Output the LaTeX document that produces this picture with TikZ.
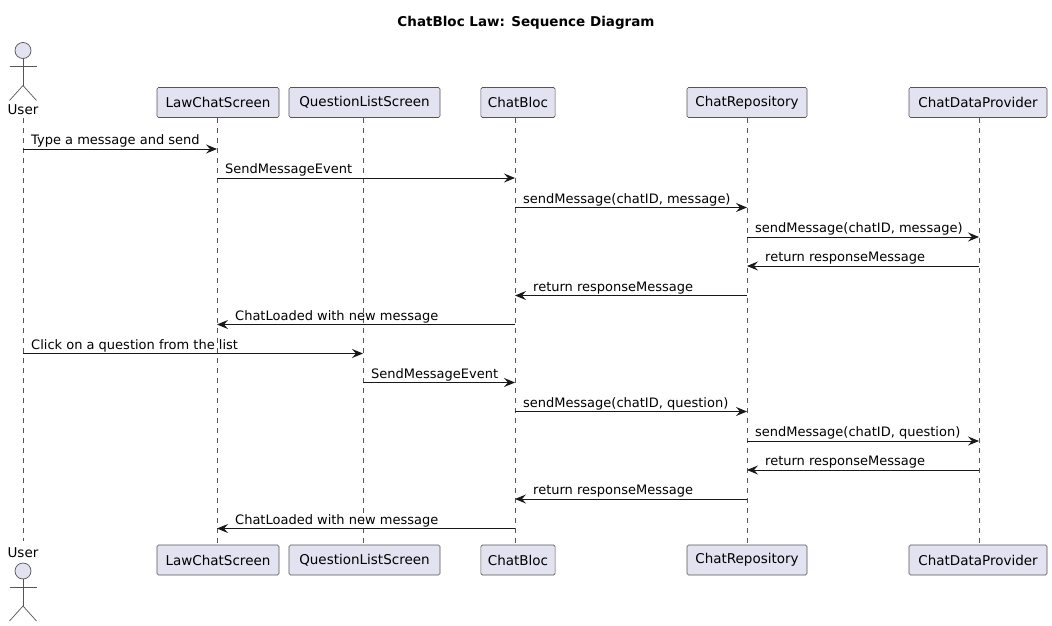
\documentclass[tikz,border=0pt]{standalone}
\usepackage{fontspec}
\setmainfont{DejaVu Sans}
\usetikzlibrary{arrows.meta}
\definecolor{pfill}{HTML}{E2E2F0}
\definecolor{pline}{HTML}{181818}
\definecolor{pborder}{HTML}{555555}
\tikzset{
  part/.style={draw=pborder, fill=pfill, line width=0.6pt, rounded corners=1.5pt, minimum height=30pt, inner xsep=7pt, font=\fontsize{13.5}{16}\selectfont},
  life/.style={draw=pborder, line width=0.6pt, dash pattern=on 5pt off 5pt},
  msg/.style={draw=pline, line width=0.9pt, -{Stealth[length=11pt,width=9pt,inset=4pt]}},
  lbl/.style={font=\fontsize{13}{15}\selectfont, inner sep=0pt, anchor=base west, text=black},
  actorline/.style={draw=pborder, line width=0.7pt},
  actortext/.style={font=\fontsize{13.5}{16}\selectfont, inner sep=0pt}
}
\newcommand{\actorfig}[2]{%
  \draw[actorline, fill=pfill] (#1,#2) circle (8pt);
  \draw[actorline] (#1,#2+8) -- (#1,#2+35);
  \draw[actorline] (#1-13.5,#2+16) -- (#1+13.5,#2+16);
  \draw[actorline] (#1-13.5,#2+50) -- (#1,#2+35) -- (#1+13.5,#2+50);
}
\newcommand{\rmsg}[4]{%
  \draw[msg] (#1 |- 0,#3) -- (#2 |- 0,#3);
  \path (#1 |- 0,#3) ++(8,-4.5) node[lbl] {#4};
}
\newcommand{\lmsg}[4]{%
  \draw[msg] (#1 |- 0,#3) -- (#2 |- 0,#3);
  \path (#2 |- 0,#3) ++(18,-4.5) node[lbl] {#4};
}
\begin{document}
\begin{tikzpicture}[x=1pt,y=-1pt]
\useasboundingbox (0,0) rectangle (1052,626);
\node[font=\bfseries\fontsize{13.5}{16}\selectfont] (title) at (526,22.5) {ChatBloc Law: Sequence Diagram};
% top participants
\node[actortext] (uT) at (23,110) {User};
\node[part, minimum width=122pt] (lT) at (218,102.5) {LawChatScreen};
\node[part, minimum width=151pt] (qT) at (364.5,102.5) {QuestionListScreen};
\node[part, minimum width=70pt] (cT) at (518,102.5) {ChatBloc};
\node[part, minimum width=120pt] (rT) at (747,102.5) {ChatRepository};
\node[part, minimum width=138pt] (dT) at (978,102.5) {ChatDataProvider};
% bottom participants
\node[actortext] (uB) at (23,553) {User};
\node[part, minimum width=122pt] (lB) at (218,560) {LawChatScreen};
\node[part, minimum width=151pt] (qB) at (364.5,560) {QuestionListScreen};
\node[part, minimum width=70pt] (cB) at (518,560) {ChatBloc};
\node[part, minimum width=120pt] (rB) at (747,560) {ChatRepository};
\node[part, minimum width=138pt] (dB) at (978,560) {ChatDataProvider};
% lifeline coordinates
\coordinate (U) at (23,0);
\coordinate (L) at (217,0);
\coordinate (Q) at (363,0);
\coordinate (C) at (515,0);
\coordinate (R) at (747,0);
\coordinate (D) at (979,0);
\draw[life] (U |- 0,118) -- (U |- 0,541);
\draw[life] (L |- lT.south) -- (L |- lB.north);
\draw[life] (Q |- qT.south) -- (Q |- qB.north);
\draw[life] (C |- cT.south) -- (C |- cB.north);
\draw[life] (R |- rT.south) -- (R |- rB.north);
\draw[life] (D |- dT.south) -- (D |- dB.north);
% actors
\actorfig{23}{50.5}
\actorfig{23}{571}
% messages
\rmsg{U}{L}{149}{Type a message and send}
\rmsg{L}{C}{178}{SendMessageEvent}
\rmsg{C}{R}{207.5}{sendMessage(chatID, message)}
\rmsg{R}{D}{237}{sendMessage(chatID, message)}
\lmsg{D}{R}{266}{return responseMessage}
\lmsg{R}{C}{295.5}{return responseMessage}
\lmsg{C}{L}{324.5}{ChatLoaded with new message}
\rmsg{U}{Q}{353.5}{Click on a question from the list}
\rmsg{Q}{C}{382.5}{SendMessageEvent}
\rmsg{C}{R}{411.5}{sendMessage(chatID, question)}
\rmsg{R}{D}{441}{sendMessage(chatID, question)}
\lmsg{D}{R}{470}{return responseMessage}
\lmsg{R}{C}{499}{return responseMessage}
\lmsg{C}{L}{528.5}{ChatLoaded with new message}
\end{tikzpicture}
\end{document}
